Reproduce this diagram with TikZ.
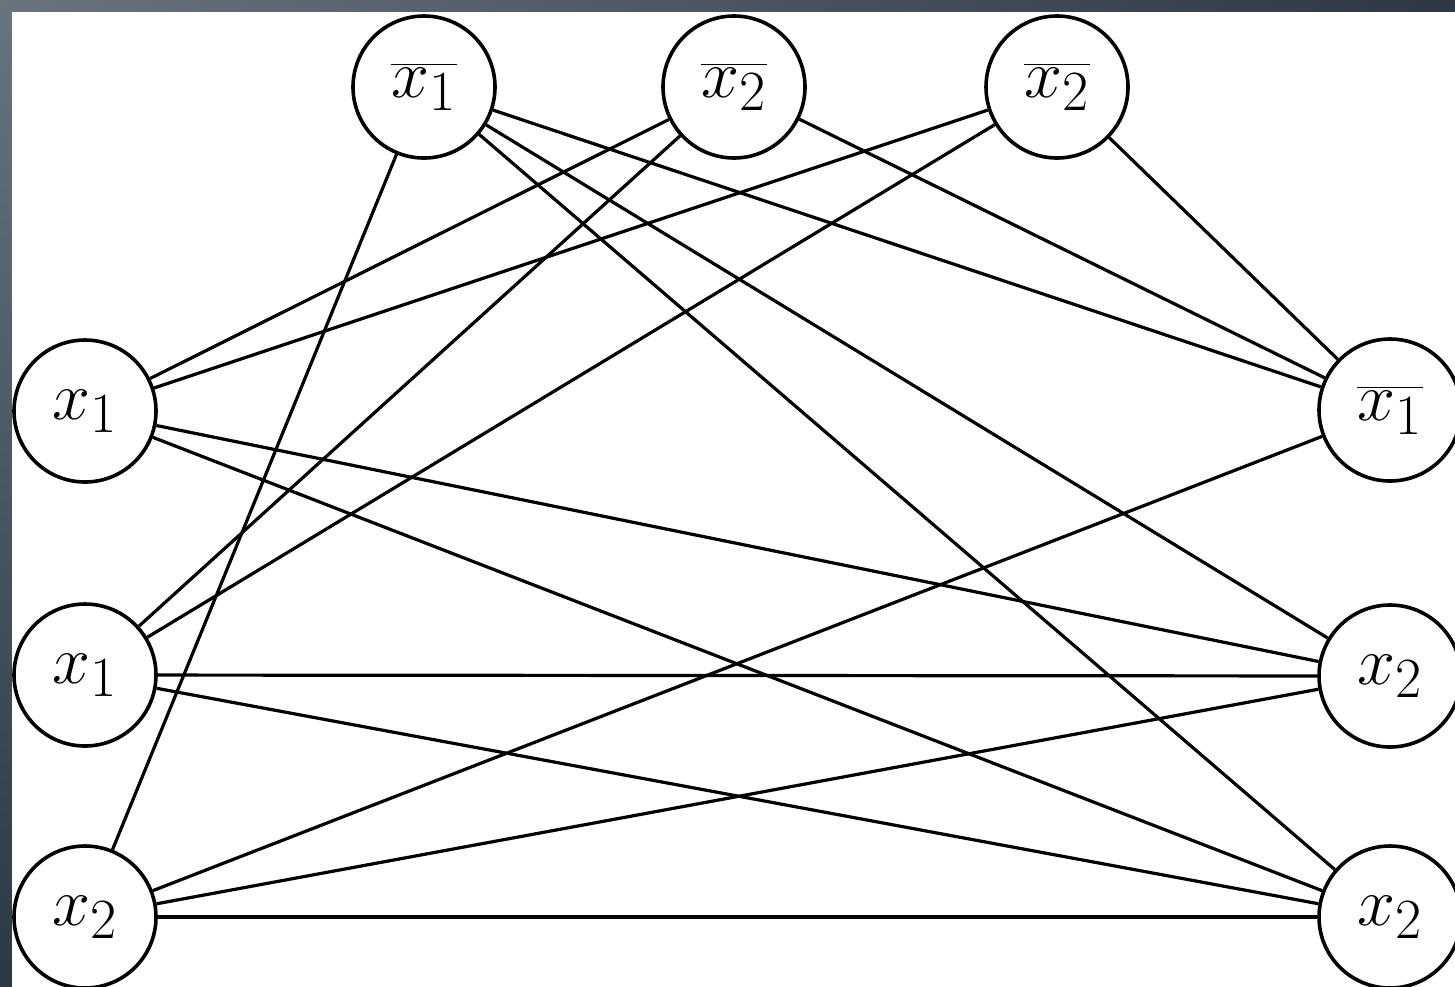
\documentclass[tikz,border=0pt]{standalone}
\usepackage{graphicx}
\usetikzlibrary{shadings}
\definecolor{bgA}{RGB}{104,116,126}
\definecolor{bgB}{RGB}{44,56,68}
\definecolor{bgC}{RGB}{30,40,50}
\newcommand{\vlbl}[1]{\scalebox{1.37}{\Huge$#1$}}
\begin{document}
\begin{tikzpicture}[x=0.5pt,y=-0.5pt,
  vert/.style={circle,draw=black,line width=1.8pt,fill=white,minimum size=71pt,inner sep=0pt},
  edge/.style={line width=1.6pt,black}]
\useasboundingbox (0,0) rectangle (1455,986);
\clip (0,0) rectangle (1455,986);
\shade[upper left=bgA,upper right=bgB,lower left=bgB,lower right=bgC]
  (0,0) rectangle (1455,986);
\fill[white] (12,12) rectangle (1460,990);
% nodes
\node[vert] (T1) at (424,87) {\vlbl{\overline{x_1}}};
\node[vert] (T2) at (734,87) {\vlbl{\overline{x_2}}};
\node[vert] (T3) at (1057,87) {\vlbl{\overline{x_2}}};
\node[vert] (L1) at (85,411) {\vlbl{x_1}};
\node[vert] (L2) at (85,675) {\vlbl{x_1}};
\node[vert] (L3) at (85,917) {\vlbl{x_2}};
\node[vert] (R1) at (1390,410) {\vlbl{\overline{x_1}}};
\node[vert] (R2) at (1390,676) {\vlbl{x_2}};
\node[vert] (R3) at (1390,917) {\vlbl{x_2}};
% edges
\draw[edge] (L1) -- (T2);
\draw[edge] (L1) -- (T3);
\draw[edge] (L1) -- (R2);
\draw[edge] (L1) -- (R3);
\draw[edge] (L2) -- (T2);
\draw[edge] (L2) -- (T3);
\draw[edge] (L2) -- (R2);
\draw[edge] (L2) -- (R3);
\draw[edge] (L3) -- (T1);
\draw[edge] (L3) -- (R1);
\draw[edge] (L3) -- (R2);
\draw[edge] (L3) -- (R3);
\draw[edge] (T1) -- (R1);
\draw[edge] (T1) -- (R2);
\draw[edge] (T1) -- (R3);
\draw[edge] (T2) -- (R1);
\draw[edge] (T3) -- (R1);
\end{tikzpicture}
\end{document}
